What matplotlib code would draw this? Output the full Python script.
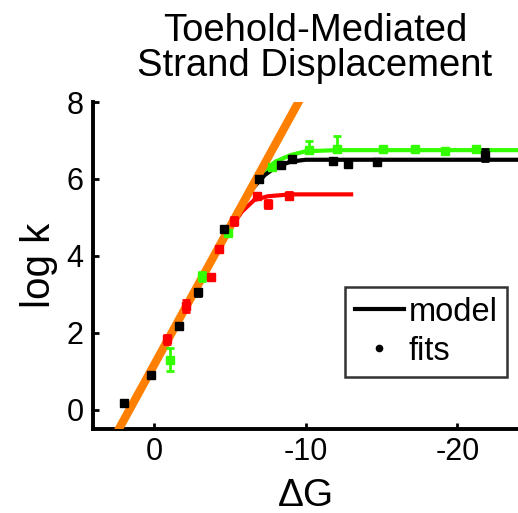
import numpy as np
import matplotlib
matplotlib.use("Agg")
from matplotlib import pyplot as plt
from matplotlib.lines import Line2D

plt.rcParams['font.family'] = ['Liberation Sans', 'DejaVu Sans']

# --- fitted rates ---
blk_dG = [2.0, 0.2, -1.65, -2.9, -4.6, -6.9, -8.35, -9.1, -11.8, -12.8, -14.7, -21.8]
blk_k = [0.16, 0.91, 2.17, 3.05, 4.7, 6.0, 6.37, 6.53, 6.48, 6.4, 6.45, 6.62]
blk_err = [0.05, 0.05, 0.08, 0.1, 0.08, 0.05, 0.05, 0.05, 0.05, 0.05, 0.05, 0.15]

grn_dG = [-1.05, -3.2, -4.9, -7.8, -10.2, -12.1, -15.1, -17.2, -19.2, -21.2]
grn_k = [1.3, 3.47, 4.6, 6.3, 6.75, 6.78, 6.79, 6.79, 6.74, 6.79]
grn_lo = [0.3, 0.12, 0.08, 0.05, 0.02, 0.02, 0.05, 0.05, 0.05, 0.05]
grn_hi = [0.3, 0.12, 0.08, 0.05, 0.25, 0.35, 0.05, 0.05, 0.05, 0.05]

red_dG = [-0.85, -2.1, -3.75, -4.3, -5.3, -6.8, -7.5, -8.9]
red_k = [1.83, 2.7, 3.44, 4.18, 4.9, 5.56, 5.35, 5.57]
red_err = [0.12, 0.15, 0.08, 0.08, 0.1, 0.08, 0.1, 0.1]

# --- model curves ---
blk_mdG = [-5.5, -6.5, -7.3, -8.0, -9.0, -10.0, -12.0, -25.0]
blk_mk = [5.1, 5.75, 6.1, 6.3, 6.45, 6.5, 6.5, 6.5]
grn_mdG = [-5.5, -6.5, -7.3, -8.0, -9.0, -10.0, -12.0, -25.0]
grn_mk = [5.2, 5.8, 6.2, 6.45, 6.62, 6.72, 6.75, 6.75]
red_mdG = [-5.0, -5.8, -6.6, -7.5, -9.0, -13.0]
red_mk = [4.7, 5.15, 5.45, 5.55, 5.6, 5.6]

# --- toehold-limited line ---
lin_dG = [2.5, -9.6]
lin_k = [-0.64, 8.05]

fig = plt.figure(figsize=(5.18, 5.13), dpi=100)
ax = fig.add_axes([0.18, 0.164, 0.82, 0.637])

ax.plot(grn_mdG, grn_mk, color='#33ff00', lw=3, zorder=2)
ax.plot(blk_mdG, blk_mk, color='black', lw=3, zorder=2)
ax.plot(red_mdG, red_mk, color='#ff0000', lw=3, zorder=2)
ax.plot(lin_dG, lin_k, color='#ff8000', lw=6, zorder=3, solid_capstyle='round', clip_on=True)

ax.errorbar(grn_dG, grn_k, yerr=[grn_lo, grn_hi], fmt='s', ms=5.5, color='#33ff00',
            elinewidth=2, capsize=3, capthick=2, zorder=4)
ax.errorbar(red_dG, red_k, yerr=red_err, fmt='s', ms=5.5, color='#ff0000',
            elinewidth=2, capsize=3, capthick=2, zorder=4)
ax.errorbar(blk_dG, blk_k, yerr=blk_err, fmt='s', ms=5.5, color='black',
            elinewidth=2, capsize=3, capthick=2, zorder=5)

ax.set_xlim(4, -24)
ax.set_ylim(-0.5, 8)
ax.set_xticks([0, -10, -20])
ax.set_xticklabels(['0', '-10', '-20'])
ax.set_yticks([0, 2, 4, 6, 8])
ax.spines['top'].set_visible(False)
ax.spines['right'].set_visible(False)
ax.spines['left'].set_linewidth(2.8)
ax.spines['bottom'].set_linewidth(2.8)
ax.tick_params(direction='in', length=4, width=2, labelsize=22)
ax.tick_params(axis='x', pad=6)
ax.tick_params(axis='y', pad=7)

ax.set_xlabel('ΔG', fontsize=28, labelpad=8)
ax.set_ylabel('log k', fontsize=29, labelpad=6)
ax.set_title('Toehold-Mediated\nStrand Displacement', fontsize=27.5, pad=19,
             linespacing=0.95, x=0.522)

handles = [Line2D([], [], color='black', lw=3),
           Line2D([], [], color='black', marker='.', ls='none', ms=9)]
leg = ax.legend(handles, ['model', 'fits'], loc='lower right', bbox_to_anchor=(0.975, 0.16),
                fontsize=23.5, frameon=True, fancybox=False, edgecolor='black',
                handlelength=1.5, handletextpad=0.15, borderpad=0.3, labelspacing=0.25,
                borderaxespad=0)
leg.get_frame().set_linewidth(1.8)

fig.savefig('out.png', dpi=100)
